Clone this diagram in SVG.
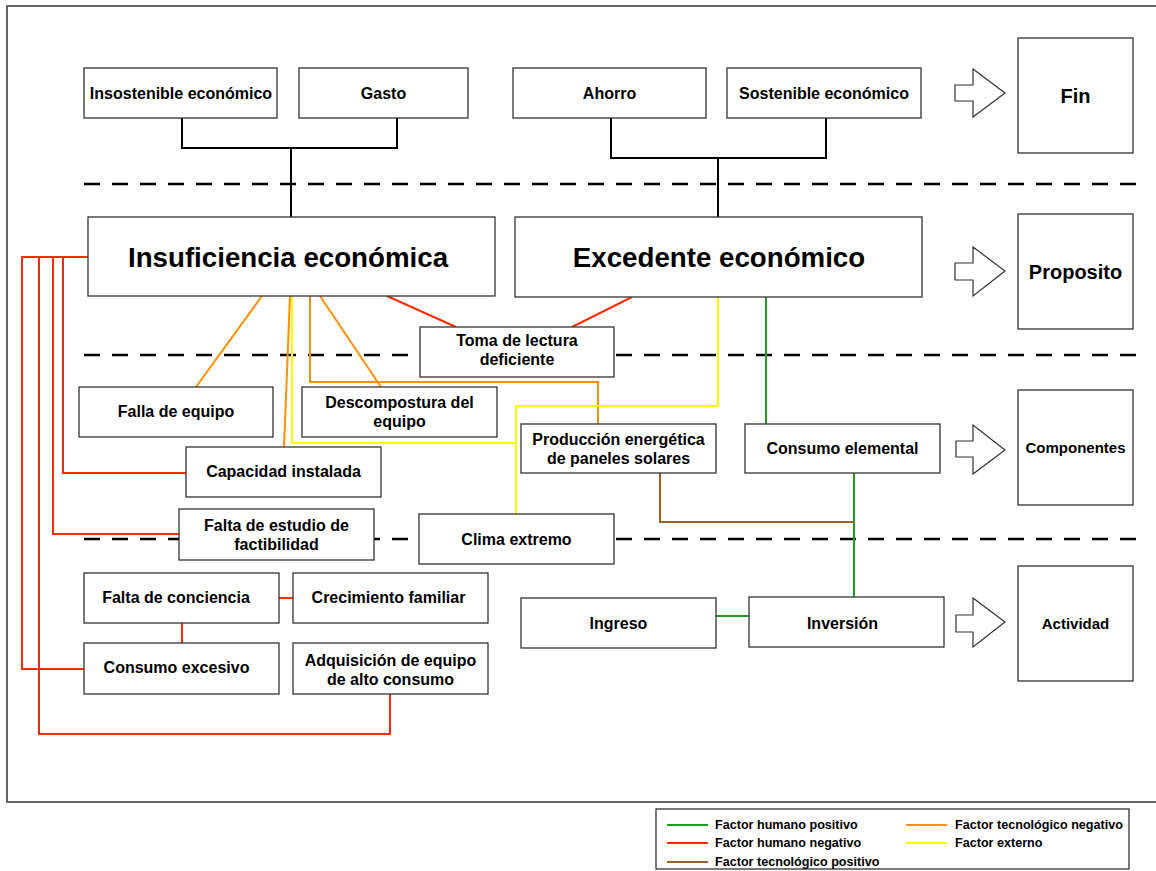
<svg xmlns="http://www.w3.org/2000/svg" width="1156" height="871" viewBox="0 0 1156 871">
<style>
text{font-family:"Liberation Sans",Arial,sans-serif;font-weight:bold;fill:#000;text-anchor:middle}
.box{fill:#fff;stroke:#333;stroke-width:1.3}
.dash{stroke:#000;stroke-width:2.5;stroke-dasharray:16 12;fill:none}
.k{stroke:#000;stroke-width:2;fill:none}
.r{stroke:#ff2a00;stroke-width:2;fill:none}
.o{stroke:#ff9100;stroke-width:2;fill:none}
.y{stroke:#ffff00;stroke-width:2;fill:none}
.g{stroke:#1e9e1e;stroke-width:2;fill:none}
.b{stroke:#a0602a;stroke-width:2;fill:none}
.arrow{fill:#fff;stroke:#333;stroke-width:1.2}
.t15{font-size:16px}
.t14{font-size:16px}
.big{font-size:27.7px}
.side{font-size:20px}
.side2{font-size:15px}
.leg{font-size:12.6px;text-anchor:start}
</style>
<rect x="7" y="6" width="1160" height="796" fill="#fff" stroke="#333" stroke-width="1.5"/>
<g id="levels">
<line class="dash" x1="84" y1="184" x2="1140" y2="184"/>
<line class="dash" x1="84" y1="355" x2="1140" y2="355"/>
<line class="dash" x1="84" y1="539" x2="1140" y2="539"/>
</g>
<g id="connectors">
<polyline class="k" points="182,118 182,148 397,148 397,118"/>
<line class="k" x1="291" y1="148" x2="291" y2="217"/>
<polyline class="k" points="611,118 611,158 826,158 826,118"/>
<line class="k" x1="718" y1="158" x2="718" y2="217"/>
<polyline class="r" points="88,257 22,257 22,669 84,669"/>
<polyline class="r" points="39,257 39,734 390,734 390,694"/>
<polyline class="r" points="53,257 53,534 179,534"/>
<polyline class="r" points="63,257 63,473 186,473"/>
<line class="r" x1="279" y1="598" x2="293" y2="598"/>
<line class="r" x1="182" y1="623" x2="182" y2="643"/>
<line class="r" x1="387" y1="296" x2="456" y2="327"/>
<line class="r" x1="632" y1="297" x2="572" y2="327"/>
<line class="o" x1="262" y1="296" x2="196" y2="387"/>
<line class="o" x1="290" y1="296" x2="284" y2="447"/>
<polyline class="o" points="310,296 310,382 598,382 598,424"/>
<line class="o" x1="320" y1="296" x2="381" y2="387"/>
<polyline class="y" points="292,296 292,443 516,443"/>
<polyline class="y" points="718,297 718,406 516,406 516,514"/>
<line class="g" x1="766" y1="297" x2="766" y2="424"/>
<line class="g" x1="854" y1="473" x2="854" y2="597"/>
<line class="g" x1="716" y1="616" x2="749" y2="616"/>
<polyline class="b" points="660,473 660,522 854,522"/>
</g>
<g id="n-insostenible"><rect class="box" x="84" y="68" width="193" height="50"/><text class="t14" x="181" y="99">Insostenible económico</text></g>
<g id="n-gasto"><rect class="box" x="299" y="68" width="169" height="50"/><text class="t14" x="383.5" y="99">Gasto</text></g>
<g id="n-ahorro"><rect class="box" x="513" y="68" width="193" height="50"/><text class="t14" x="609.5" y="99">Ahorro</text></g>
<g id="n-sostenible"><rect class="box" x="727" y="68" width="194" height="50"/><text class="t14" x="824" y="99">Sostenible económico</text></g>
<g id="n-insuficiencia"><rect class="box" x="88" y="217" width="407" height="79"/><text class="big" x="288" y="267">Insuficiencia económica</text></g>
<g id="n-excedente"><rect class="box" x="515" y="217" width="407" height="80"/><text class="big" x="719" y="267">Excedente económico</text></g>
<g id="n-toma"><rect class="box" x="420" y="327" width="194" height="50"/><text class="t15" x="517" y="346">Toma de lectura</text><text class="t15" x="517" y="365">deficiente</text></g>
<g id="n-falla"><rect class="box" x="79" y="387" width="194" height="50"/><text class="t15" x="176" y="417">Falla de equipo</text></g>
<g id="n-descompostura"><rect class="box" x="302" y="387" width="195" height="50"/><text class="t15" x="399.5" y="408">Descompostura del</text><text class="t15" x="399.5" y="427">equipo</text></g>
<g id="n-produccion"><rect class="box" x="521" y="424" width="195" height="49"/><text class="t15" x="618.5" y="445">Producción energética</text><text class="t15" x="618.5" y="464">de paneles solares</text></g>
<g id="n-consumo-elemental"><rect class="box" x="745" y="424" width="195" height="49"/><text class="t15" x="842.5" y="454">Consumo elemental</text></g>
<g id="n-capacidad"><rect class="box" x="186" y="447" width="195" height="50"/><text class="t15" x="283.5" y="477">Capacidad instalada</text></g>
<g id="n-estudio"><rect class="box" x="179" y="509" width="195" height="51"/><text class="t15" x="276.5" y="531">Falta de estudio de</text><text class="t15" x="276.5" y="550">factibilidad</text></g>
<g id="n-clima"><rect class="box" x="419" y="514" width="195" height="50"/><text class="t15" x="516.5" y="545">Clima extremo</text></g>
<g id="n-conciencia"><rect class="box" x="84" y="573" width="195" height="50"/><text class="t15" x="176" y="603">Falta de conciencia</text></g>
<g id="n-crecimiento"><rect class="box" x="293" y="573" width="195" height="50"/><text class="t15" x="388.5" y="603">Crecimiento familiar</text></g>
<g id="n-ingreso"><rect class="box" x="521" y="598" width="195" height="50"/><text class="t15" x="618.5" y="629">Ingreso</text></g>
<g id="n-inversion"><rect class="box" x="749" y="597" width="195" height="50"/><text class="t15" x="842.5" y="629">Inversión</text></g>
<g id="n-consumo-excesivo"><rect class="box" x="84" y="643" width="195" height="51"/><text class="t15" x="176.5" y="673">Consumo excesivo</text></g>
<g id="n-adquisicion"><rect class="box" x="293" y="643" width="195" height="51"/><text class="t15" x="390.5" y="666">Adquisición de equipo</text><text class="t15" x="390.5" y="685">de alto consumo</text></g>
<g id="n-fin"><polygon class="arrow" points="955,85 973,85 973,69 1005,93 973,117 973,101 955,101"/><rect class="box" x="1018" y="38" width="115" height="115"/><text class="side" x="1075.5" y="103">Fin</text></g>
<g id="n-proposito"><polygon class="arrow" points="955,263 973,263 973,247 1005,271 973,296 973,280 955,280"/><rect class="box" x="1018" y="214" width="115" height="115"/><text class="side" x="1075.5" y="279">Proposito</text></g>
<g id="n-componentes"><polygon class="arrow" points="956,441 973,441 973,425 1005,450 973,474 973,457 956,457"/><rect class="box" x="1018" y="390" width="115" height="115"/><text class="side2" x="1075.5" y="453">Componentes</text></g>
<g id="n-actividad"><polygon class="arrow" points="956,615 973,615 973,598 1005,622 973,647 973,632 956,632"/><rect class="box" x="1018" y="566" width="115" height="115"/><text class="side2" x="1075.5" y="629">Actividad</text></g>
<g id="legend">
<rect x="656" y="809" width="473" height="60" fill="#fff" stroke="#333" stroke-width="1.3"/>
<line class="g" x1="667" y1="825" x2="708" y2="825"/>
<line class="r" x1="667" y1="843" x2="708" y2="843"/>
<line class="b" x1="667" y1="862" x2="708" y2="862"/>
<line class="o" x1="906" y1="825" x2="947" y2="825"/>
<line class="y" x1="906" y1="843" x2="947" y2="843"/>
<text class="leg" x="715" y="829">Factor humano positivo</text>
<text class="leg" x="715" y="847">Factor humano negativo</text>
<text class="leg" x="715" y="866">Factor tecnológico positivo</text>
<text class="leg" x="955" y="829">Factor tecnológico negativo</text>
<text class="leg" x="955" y="847">Factor externo</text>
</g>
</svg>
